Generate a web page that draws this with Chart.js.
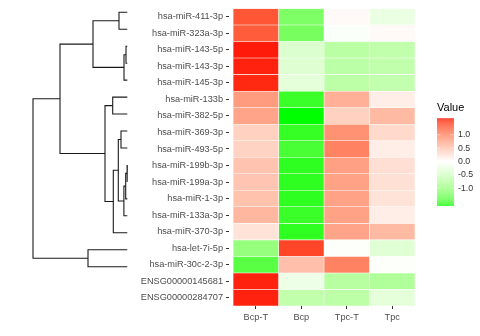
<!DOCTYPE html>
<html>
<head>
<meta charset="utf-8">
<script src="https://cdn.jsdelivr.net/npm/chart.js@4/dist/chart.umd.min.js"></script>
<style>
  html, body { margin: 0; padding: 0; background: #fff; }
  #wrap { position: relative; width: 480px; height: 336px; }
  canvas { position: absolute; top: 0; left: 0; }
</style>
</head>
<body>
<div id="wrap">
  <canvas id="heat" width="480" height="336"></canvas>
  <canvas id="tree" width="114" height="300" style="left:23px"></canvas>
</div>
<script>
const rowNames = [
  'hsa-miR-411-3p', 'hsa-miR-323a-3p', 'hsa-miR-143-5p', 'hsa-miR-143-3p', 'hsa-miR-145-3p',
  'hsa-miR-133b', 'hsa-miR-382-5p', 'hsa-miR-369-3p', 'hsa-miR-493-5p', 'hsa-miR-199b-3p',
  'hsa-miR-199a-3p', 'hsa-miR-1-3p', 'hsa-miR-133a-3p', 'hsa-miR-370-3p', 'hsa-let-7i-5p',
  'hsa-miR-30c-2-3p', 'ENSG00000145681', 'ENSG00000284707'
];
const colNames = ['Bcp-T', 'Bcp', 'Tpc-T', 'Tpc'];

// scaled expression per group, same order as rowNames
const bcpT = [1.36, 1.32, 1.62, 1.60, 1.58, 0.85, 0.78, 0.40, 0.38, 0.52, 0.50, 0.53, 0.62, 0.25, -1.05, -1.45, 1.60, 1.60];
const bcp  = [-1.23, -1.28, -0.41, -0.37, -0.30, -1.57, -1.66, -1.58, -1.52, -1.60, -1.60, -1.60, -1.57, -1.60, 1.45, 0.55, -0.20, -0.68];
const tpcT = [0.05, -0.05, -0.75, -0.74, -0.73, 0.68, 0.40, 0.93, 1.05, 0.82, 0.80, 0.80, 0.80, 0.78, -0.04, 1.05, -0.78, -0.73];
const tpc  = [-0.23, 0.05, -0.68, -0.68, -0.67, 0.15, 0.60, 0.33, 0.15, 0.28, 0.27, 0.25, 0.15, 0.60, -0.35, -0.04, -0.83, -0.30];

// row clustering of the miRNAs (hclust style: negative = leaf number, positive = earlier step)
const treeMerge = [
  [-10, -11], [-3, -4], [1, -12], [2, -5], [3, -13], [-8, -9], [-1, -2], [6, 5],
  [8, -14], [-6, -7], [10, 9], [7, 4], [-15, -16], [12, 11], [14, 13]
];
const treeHeight = [0.3, 1.3, 1.6, 3.3, 3.4, 6.3, 8.3, 9.0, 14.0, 14.6, 22.3, 34.3, 39.3, 67.3, 94.3];

const legendTicks = [-1, -0.5, 0, 0.5, 1];

// ---- colours: green - white - red, interpolated in Lab ----
function toLab(r, g, b) {
  const lin = c => { c /= 255; return c <= 0.04045 ? c / 12.92 : Math.pow((c + 0.055) / 1.055, 2.4); };
  const R = lin(r), G = lin(g), B = lin(b);
  const X = (0.4124 * R + 0.3576 * G + 0.1805 * B) / 0.95047;
  const Y = 0.2126 * R + 0.7152 * G + 0.0722 * B;
  const Z = (0.0193 * R + 0.1192 * G + 0.9505 * B) / 1.08883;
  const f = t => t > 0.008856 ? Math.cbrt(t) : 7.787 * t + 16 / 116;
  return [116 * f(Y) - 16, 500 * (f(X) - f(Y)), 200 * (f(Y) - f(Z))];
}
function fromLab(L, a, b) {
  const fy = (L + 16) / 116, fx = fy + a / 500, fz = fy - b / 200;
  const fi = t => t * t * t > 0.008856 ? t * t * t : (t - 16 / 116) / 7.787;
  const X = fi(fx) * 0.95047, Y = fi(fy), Z = fi(fz) * 1.08883;
  const R = 3.2406 * X - 1.5372 * Y - 0.4986 * Z;
  const G = -0.9689 * X + 1.8758 * Y + 0.0415 * Z;
  const B = 0.0557 * X - 0.2040 * Y + 1.0570 * Z;
  const gam = c => {
    c = Math.min(1, Math.max(0, c));
    c = c <= 0.0031308 ? 12.92 * c : 1.055 * Math.pow(c, 1 / 2.4) - 0.055;
    return Math.round(c * 255);
  };
  return 'rgb(' + gam(R) + ',' + gam(G) + ',' + gam(B) + ')';
}
const labHigh = toLab(255, 0, 0), labMid = toLab(255, 255, 255), labLow = toLab(0, 255, 0);
const allValues = [bcpT, bcp, tpcT, tpc].flat();
const vMin = Math.min(...allValues), vMax = Math.max(...allValues);
const vAbs = Math.max(Math.abs(vMin), Math.abs(vMax));
function fillFor(v) {
  const t = Math.min(1, Math.abs(v) / vAbs);
  const end = v >= 0 ? labHigh : labLow;
  return fromLab(labMid[0] + (end[0] - labMid[0]) * t,
                 labMid[1] + (end[1] - labMid[1]) * t,
                 labMid[2] + (end[2] - labMid[2]) * t);
}

// ---- colour bar legend ----
const valueBar = {
  id: 'valueBar',
  afterDraw(chart) {
    const ctx = chart.ctx;
    const left = 437, w = 17, top = 118.3, bot = 205.7;
    const toY = v => bot - (v - vMin) / (vMax - vMin) * (bot - top);
    ctx.save();
    for (let y = top; y < bot; y += 0.5) {
      const v = vMin + (bot - y) / (bot - top) * (vMax - vMin);
      ctx.fillStyle = fillFor(v);
      ctx.fillRect(left, y, w, 0.6);
    }
    ctx.strokeStyle = 'rgba(255,255,255,0.8)';
    ctx.lineWidth = 0.6;
    ctx.font = '8.8px "Liberation Sans", Arial, sans-serif';
    ctx.fillStyle = '#333';
    ctx.textBaseline = 'middle';
    ctx.textAlign = 'left';
    legendTicks.forEach(v => {
      const y = toY(v);
      ctx.beginPath();
      ctx.moveTo(left, y); ctx.lineTo(left + w / 5, y);
      ctx.moveTo(left + w, y); ctx.lineTo(left + w - w / 5, y);
      ctx.stroke();
      ctx.fillText(v.toFixed(1), 458, y);
    });
    ctx.font = '11px "Liberation Sans", Arial, sans-serif';
    ctx.fillStyle = '#000';
    ctx.textBaseline = 'alphabetic';
    ctx.fillText('Value', 437, 111);
    ctx.restore();
  }
};

// ---- heatmap: one floating bar per cell ----
const axisFont = { family: '"Liberation Sans", Arial, sans-serif', size: 9.2 };
const heatSets = colNames.map((name, c) => ({
  label: name,
  data: rowNames.map(() => [c, c + 1]),
  backgroundColor: [bcpT, bcp, tpcT, tpc][c].map(fillFor),
  borderColor: 'rgba(255,255,255,0.35)',
  borderWidth: 0.6,
  borderSkipped: false,
  barPercentage: 1,
  categoryPercentage: 1,
  grouped: false
}));

new Chart(document.getElementById('heat'), {
  type: 'bar',
  data: { labels: rowNames, datasets: heatSets },
  options: {
    indexAxis: 'y',
    responsive: false,
    animation: false,
    layout: { padding: { left: 0, top: 2, right: 65, bottom: 0 } },
    plugins: { legend: { display: false }, tooltip: { enabled: false } },
    scales: {
      x: {
        type: 'linear', min: -0.09, max: 4,
        afterBuildTicks: s => { s.ticks = [0.5, 1.5, 2.5, 3.5].map(v => ({ value: v })); },
        afterFit: s => { s.height = 30; },
        ticks: { callback: (v, i) => colNames[i], color: '#4d4d4d', font: axisFont, padding: 3, maxRotation: 0, autoSkip: false },
        grid: { drawOnChartArea: false, tickLength: 3, color: '#333' },
        border: { display: false }
      },
      y: {
        afterFit: s => { s.width = 229; },
        ticks: { color: '#4d4d4d', font: axisFont, padding: 3, autoSkip: false },
        grid: { offset: false, drawOnChartArea: false, tickLength: 3, color: '#333' },
        border: { display: false }
      }
    }
  },
  plugins: [valueBar]
});

// ---- dendrogram ----
const nodes = [];
treeMerge.forEach((pair, i) => {
  const ends = pair.map(k => k < 0 ? { x: 0, y: -k - 1 } : nodes[k - 1]);
  nodes.push({ x: treeHeight[i], y: (ends[0].y + ends[1].y) / 2, ends: ends });
});
const treeSets = nodes.map(n => ({
  data: [
    { x: n.ends[0].x, y: n.ends[0].y },
    { x: n.x, y: n.ends[0].y },
    { x: n.x, y: n.ends[1].y },
    { x: n.ends[1].x, y: n.ends[1].y }
  ],
  showLine: true,
  borderColor: '#1a1a1a',
  borderWidth: 1.1,
  pointRadius: 0,
  tension: 0,
  clip: false
}));

new Chart(document.getElementById('tree'), {
  type: 'scatter',
  data: { datasets: treeSets },
  options: {
    responsive: false,
    animation: false,
    layout: { padding: 0 },
    plugins: { legend: { display: false }, tooltip: { enabled: false } },
    scales: {
      x: { type: 'linear', display: false, reverse: true, min: -9.7, max: 104.3 },
      y: { type: 'linear', display: false, reverse: true, min: -0.725, max: -0.725 + 300 / 16.96 }
    }
  }
});
</script>
</body>
</html>
